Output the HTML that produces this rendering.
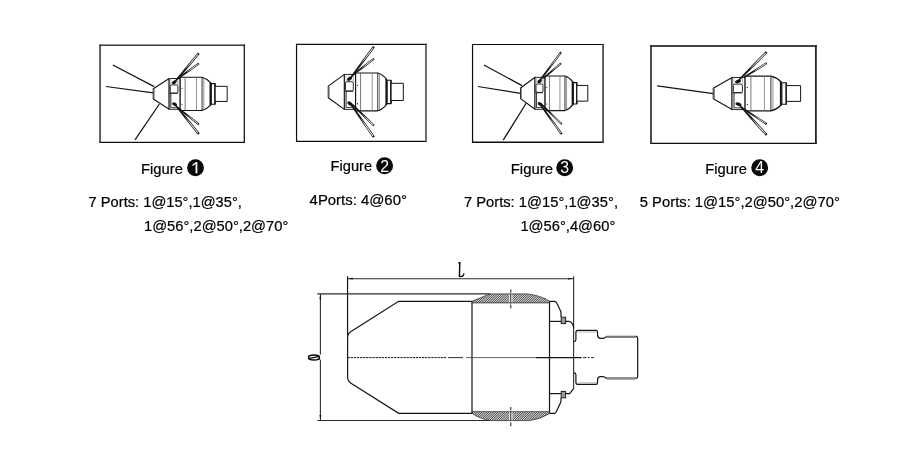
<!DOCTYPE html>
<html><head><meta charset="utf-8"><title>Nozzle figures</title>
<style>
html,body{margin:0;padding:0;background:#fff;}
body{width:900px;height:454px;overflow:hidden;font-family:"Liberation Sans",sans-serif;}
svg{display:block;filter:grayscale(1);}
</style></head><body>
<svg width="900" height="454" viewBox="0 0 900 454">
<rect width="900" height="454" fill="#fff"/>
<defs>
<g id="noz" fill="#fff" stroke="#141414" stroke-width="1.15" vector-effect="non-scaling-stroke" stroke-linejoin="round">
  <path vector-effect="non-scaling-stroke" d="M0,-5.8 L0,5.8 L16.1,17.5 L16.1,-17.5 Z"/>
  <rect vector-effect="non-scaling-stroke" x="0.2" y="-5.4" width="1.3" height="10.8" fill="#8a8a8a" stroke="none"/>
  <rect vector-effect="non-scaling-stroke" x="16.1" y="-17.5" width="11.2" height="35" stroke-width="0.95"/>
  <line vector-effect="non-scaling-stroke" x1="17.7" y1="-17.5" x2="17.7" y2="17.5" stroke="#9a9a9a" stroke-width="0.6"/>
  <path vector-effect="non-scaling-stroke" d="M27.3,-18.9 L49.5,-18.9 Q54.2,-17.6 58.4,-12.5 L58.4,12.5 Q54.2,17.6 49.5,18.9 L27.3,18.9 Z"/>
  <line vector-effect="non-scaling-stroke" x1="32.3" y1="-18.9" x2="32.3" y2="18.9" stroke="#555" stroke-width="0.8"/>
  <line vector-effect="non-scaling-stroke" x1="43.9" y1="-18.9" x2="43.9" y2="18.9" stroke="#777" stroke-width="0.8"/>
  <line vector-effect="non-scaling-stroke" x1="49.5" y1="-18.9" x2="49.5" y2="18.9" stroke-width="0.9"/>
  <line vector-effect="non-scaling-stroke" x1="51.3" y1="-18.3" x2="51.3" y2="18.3" stroke="#666" stroke-width="0.7"/>
  <line vector-effect="non-scaling-stroke" x1="57.9" y1="-13" x2="57.9" y2="13" stroke-width="1.6"/>
  <rect vector-effect="non-scaling-stroke" x="58.9" y="-11.7" width="3.9" height="23.4" stroke-width="1.1"/>
  <line vector-effect="non-scaling-stroke" x1="62.6" y1="-11.7" x2="62.6" y2="11.7" stroke-width="1.4"/>
  <rect vector-effect="non-scaling-stroke" x="62.8" y="-8.6" width="12.2" height="17.2" stroke-width="1"/>
  <!-- mid band detail -->
  <rect vector-effect="non-scaling-stroke" x="17.2" y="-10.2" width="7.8" height="9.2" rx="1.4" stroke-width="0.9"/>
  <line vector-effect="non-scaling-stroke" x1="16.1" y1="-0.6" x2="25" y2="-0.6" stroke-width="0.8"/>
  <path vector-effect="non-scaling-stroke" d="M17.8,-0.6 L17.8,15.6 L25,15.6" fill="none" stroke-width="0.8"/>
  <line vector-effect="non-scaling-stroke" x1="25" y1="-10.2" x2="25" y2="-17.5" stroke="#777" stroke-width="0.6"/>
  <ellipse vector-effect="non-scaling-stroke" cx="21.2" cy="-13.2" rx="2.7" ry="1.8" fill="#141414" stroke="none" transform="rotate(-30 21.2 -13.2)"/>
  <ellipse vector-effect="non-scaling-stroke" cx="21.6" cy="11.6" rx="2.7" ry="1.8" fill="#141414" stroke="none" transform="rotate(30 21.6 11.6)"/>
  <circle cx="29.2" cy="-6.4" r="0.6" fill="#141414" stroke="none"/>
  <circle cx="29.2" cy="11.8" r="0.6" fill="#141414" stroke="none"/>
</g>

<pattern id="hat" width="1.9" height="1.9" patternUnits="userSpaceOnUse" patternTransform="rotate(-45)">
  <rect width="1.9" height="1.9" fill="#fff"/>
  <line x1="0" y1="0.95" x2="1.9" y2="0.95" stroke="#4a4a4a" stroke-width="0.75"/>
</pattern>
</defs>
<line x1="99.25" y1="45.3" x2="244.925" y2="45.3" stroke="#3a3a3a" stroke-width="1.6"/><line x1="99.25" y1="142.45" x2="244.925" y2="142.45" stroke="#111" stroke-width="1.25"/><line x1="100.05" y1="44.5" x2="100.05" y2="143.075" stroke="#3a3a3a" stroke-width="1.6"/><line x1="244.3" y1="44.5" x2="244.3" y2="143.075" stroke="#111" stroke-width="1.25"/>
<line x1="112.8" y1="65" x2="154.2" y2="86.6" stroke="#141414" stroke-width="1.25"/>
<line x1="105.9" y1="86.5" x2="153.3" y2="92.8" stroke="#141414" stroke-width="1.25"/>
<line x1="135" y1="139.9" x2="159.4" y2="104" stroke="#141414" stroke-width="1.25"/>
<use href="#noz" transform="translate(153.3,93.9) scale(0.985,0.88)"/>
<polygon points="175.09,82.80 192.39,62.74 199.68,54.04 197.92,52.56 190.63,61.26 173.91,81.80" fill="#141414"/><polygon points="185.49,69.30 191.85,62.29 198.29,54.60 197.60,54.03 191.17,61.71 185.38,69.20" fill="#fff"/>
<polygon points="177.85,79.43 192.96,68.90 199.38,64.31 198.22,62.69 191.80,67.28 176.95,78.17" fill="#141414"/><polygon points="187.07,71.98 192.61,68.42 198.28,64.36 197.82,63.71 192.15,67.76 186.99,71.85" fill="#fff"/>
<polygon points="176.92,108.01 191.76,120.08 198.18,125.18 199.42,123.62 193.00,118.52 177.88,106.79" fill="#141414"/><polygon points="186.98,115.11 192.13,119.61 197.80,124.12 198.30,123.49 192.63,118.99 187.08,114.99" fill="#fff"/>
<polygon points="174.20,104.79 190.71,125.81 197.91,134.72 199.69,133.28 192.49,124.37 175.40,103.81" fill="#141414"/><polygon points="185.54,117.71 191.25,125.37 197.61,133.24 198.31,132.68 191.95,124.81 185.66,117.62" fill="#fff"/>
<line x1="295.95" y1="44.45" x2="426.8" y2="44.45" stroke="#0c0c0c" stroke-width="1.2"/><line x1="295.95" y1="141.45" x2="426.8" y2="141.45" stroke="#0c0c0c" stroke-width="1.2"/><line x1="296.55" y1="43.85" x2="296.55" y2="142.04999999999998" stroke="#0c0c0c" stroke-width="1.2"/><line x1="425.95" y1="43.85" x2="425.95" y2="142.04999999999998" stroke="#555" stroke-width="1.7"/>
<use href="#noz" transform="translate(328.3,91.9) scale(1,1)"/>
<polygon points="350.22,79.66 367.53,57.14 374.82,47.39 372.98,46.01 365.69,55.76 348.98,78.74" fill="#141414"/><polygon points="360.60,64.62 366.97,56.72 373.41,48.11 372.69,47.57 366.25,56.18 360.47,64.53" fill="#fff"/>
<polygon points="353.27,75.61 368.18,64.38 374.51,59.49 373.29,57.91 366.96,62.80 352.33,74.39" fill="#141414"/><polygon points="362.34,67.72 367.81,63.91 373.41,59.59 372.92,58.95 367.33,63.27 362.25,67.61" fill="#fff"/>
<polygon points="351.66,104.95 366.69,119.96 373.20,126.32 374.60,124.88 368.09,118.52 352.74,103.85" fill="#141414"/><polygon points="361.91,113.99 367.11,119.53 372.86,125.14 373.42,124.57 367.67,118.95 362.02,113.89" fill="#fff"/>
<polygon points="349.17,103.24 365.73,127.54 372.96,137.86 374.84,136.54 367.61,126.22 350.43,102.36" fill="#141414"/><polygon points="360.58,118.32 366.30,127.14 372.69,136.25 373.43,135.74 367.04,126.62 360.71,118.24" fill="#fff"/>
<line x1="471.95" y1="44.5" x2="603.9" y2="44.5" stroke="#0c0c0c" stroke-width="1.2"/><line x1="471.95" y1="142.25" x2="603.9" y2="142.25" stroke="#0c0c0c" stroke-width="1.3"/><line x1="472.55" y1="43.9" x2="472.55" y2="142.9" stroke="#0c0c0c" stroke-width="1.2"/><line x1="603.05" y1="43.9" x2="603.05" y2="142.9" stroke="#444" stroke-width="1.7"/>
<line x1="483.9" y1="65" x2="522" y2="85.6" stroke="#141414" stroke-width="1.25"/>
<line x1="477.8" y1="86.5" x2="520.6" y2="93.3" stroke="#141414" stroke-width="1.25"/>
<line x1="503.2" y1="140.2" x2="526.3" y2="103" stroke="#141414" stroke-width="1.25"/>
<use href="#noz" transform="translate(520.6,93.3) scale(0.896,0.913)"/>
<polygon points="539.52,82.17 555.24,61.65 561.90,52.80 560.30,51.60 553.64,60.45 538.28,81.23" fill="#141414"/><polygon points="548.95,68.47 554.72,61.26 560.60,53.44 560.04,53.02 554.16,60.84 548.83,68.38" fill="#fff"/>
<polygon points="543.80,78.89 556.34,68.49 561.68,63.99 560.52,62.61 555.18,67.11 542.80,77.71" fill="#141414"/><polygon points="551.36,71.61 555.97,68.05 560.69,64.07 560.27,63.58 555.55,67.55 551.26,71.49" fill="#fff"/>
<polygon points="540.56,104.45 554.89,118.68 561.07,124.74 562.33,123.46 556.15,117.40 541.64,103.35" fill="#141414"/><polygon points="550.32,113.04 555.29,118.27 560.75,123.63 561.21,123.16 555.75,117.81 550.42,112.94" fill="#fff"/>
<polygon points="538.87,103.96 554.23,125.51 560.89,134.69 562.51,133.51 555.85,124.33 540.13,103.04" fill="#141414"/><polygon points="549.43,117.31 554.76,125.13 560.64,133.23 561.21,132.82 555.32,124.71 549.55,117.23" fill="#fff"/>
<line x1="650.15" y1="46.0" x2="816.8" y2="46.0" stroke="#444" stroke-width="1.8"/><line x1="650.15" y1="143.3" x2="816.8" y2="143.3" stroke="#0c0c0c" stroke-width="1.3"/><line x1="651.0" y1="45.1" x2="651.0" y2="143.95000000000002" stroke="#2c2c2c" stroke-width="1.7"/><line x1="815.9" y1="45.1" x2="815.9" y2="143.95000000000002" stroke="#222" stroke-width="1.8"/>
<line x1="657.2" y1="85.9" x2="713.3" y2="93.7" stroke="#141414" stroke-width="1.25"/>
<use href="#noz" transform="translate(713.3,93.5) scale(1.164,0.918)"/>
<polygon points="737.75,82.25 758.67,61.72 767.52,52.81 765.88,51.19 757.03,60.10 736.65,81.15" fill="#141414"/><polygon points="750.53,68.39 758.17,61.23 765.99,53.36 765.35,52.72 757.53,60.59 750.42,68.28" fill="#fff"/>
<polygon points="744.81,77.86 760.54,68.18 767.23,63.95 766.17,62.25 759.48,66.48 743.99,76.54" fill="#141414"/><polygon points="754.48,70.92 760.22,67.67 766.13,63.93 765.71,63.26 759.80,66.99 754.39,70.79" fill="#fff"/>
<polygon points="740.67,107.85 758.47,119.86 766.15,124.93 767.25,123.27 759.57,118.20 741.53,106.55" fill="#141414"/><polygon points="752.58,114.87 758.80,119.36 765.58,123.84 766.02,123.17 759.24,118.70 752.66,114.74" fill="#fff"/>
<polygon points="738.43,105.12 757.54,126.65 765.85,135.77 767.55,134.23 759.24,125.11 739.57,104.08" fill="#141414"/><polygon points="751.41,118.33 758.06,126.18 765.40,134.24 766.06,133.63 758.72,125.58 751.52,118.23" fill="#fff"/>
<g font-family="'Liberation Sans', sans-serif" fill="#000" stroke="#000" stroke-width="0.22">
<text x="141.0" y="173.6" font-size="15.3" textLength="41.9" lengthAdjust="spacingAndGlyphs">Figure</text>
<circle cx="195.5" cy="167.7" r="8.45" fill="#0a0a0a" stroke="none"/><path d="M192.50,165.40 L196.00,162.80" stroke="#fff" stroke-width="1.3" fill="none"/><path d="M196.45,162.10 L196.45,173.30" stroke="#fff" stroke-width="1.8" fill="none"/>
<text x="330.6" y="171.4" font-size="14.6" textLength="41.5" lengthAdjust="spacingAndGlyphs">Figure</text>
<circle cx="384.6" cy="165.79999999999998" r="8.45" fill="#0a0a0a" stroke="none"/><text x="384.6" y="171.50" font-size="15.8" fill="#fff" stroke="none" text-anchor="middle">2</text>
<text x="510.8" y="173.6" font-size="15.3" textLength="42.1" lengthAdjust="spacingAndGlyphs">Figure</text>
<circle cx="564.7" cy="167.7" r="8.45" fill="#0a0a0a" stroke="none"/><text x="564.7" y="173.40" font-size="15.8" fill="#fff" stroke="none" text-anchor="middle">3</text>
<text x="705.2" y="173.6" font-size="15.3" textLength="41.8" lengthAdjust="spacingAndGlyphs">Figure</text>
<circle cx="759.7" cy="167.7" r="8.45" fill="#0a0a0a" stroke="none"/><text x="759.7" y="173.40" font-size="15.8" fill="#fff" stroke="none" text-anchor="middle">4</text>
<text x="88.6" y="206.7" font-size="15.3" textLength="153.3" lengthAdjust="spacingAndGlyphs">7 Ports: 1@15°,1@35°,</text>
<text x="144" y="230.7" font-size="15.3" textLength="144.3" lengthAdjust="spacingAndGlyphs">1@56°,2@50°,2@70°</text>
<text x="309.6" y="204.7" font-size="14.3" textLength="97.3" lengthAdjust="spacingAndGlyphs">4Ports: 4@60°</text>
<text x="463.9" y="206.7" font-size="15.3" textLength="154.1" lengthAdjust="spacingAndGlyphs">7 Ports: 1@15°,1@35°,</text>
<text x="520.4" y="230.7" font-size="15.3" textLength="94.9" lengthAdjust="spacingAndGlyphs">1@56°,4@60°</text>
<text x="639.8" y="206.7" font-size="15.3" textLength="200" lengthAdjust="spacingAndGlyphs">5 Ports: 1@15°,2@50°,2@70°</text>
</g>
<line x1="347.4" y1="278.7" x2="573.6" y2="278.7" stroke="#2c2c2c" stroke-width="1.1" fill="none"/>
<line x1="347.55" y1="276.3" x2="347.55" y2="335.5" stroke="#141414" stroke-width="1.2" fill="none"/>
<line x1="573.6" y1="276.3" x2="573.6" y2="388.7" stroke="#2c2c2c" stroke-width="1.1" fill="none"/>
<path d="M347.8,278.7 l5,-0.9 l0,1.8 z" fill="#111"/>
<path d="M573.2,278.7 l-5,-0.9 l0,1.8 z" fill="#111"/>
<path d="M458.3,262.7 L460.6,262.7 M459.8,262.4 L459.4,276.6 M458.9,276.6 L462.7,276.3 L464.1,273.5" stroke="#0c0c0c" stroke-width="1.45" fill="none" stroke-linejoin="round"/>
<line x1="317.3" y1="293.9" x2="490" y2="293.9" stroke="#2c2c2c" stroke-width="1.1" fill="none"/>
<line x1="317.3" y1="420.5" x2="490" y2="420.5" stroke="#2c2c2c" stroke-width="1.1" fill="none"/>
<line x1="320.4" y1="293.9" x2="320.4" y2="354.6" stroke="#2c2c2c" stroke-width="1.1" fill="none"/>
<line x1="320.4" y1="360.2" x2="320.4" y2="420.5" stroke="#2c2c2c" stroke-width="1.1" fill="none"/>
<path d="M320.4,294.3 l-0.9,5 l1.8,0 z" fill="#111"/>
<path d="M320.4,420.1 l-0.9,-5 l1.8,0 z" fill="#111"/>
<ellipse cx="314" cy="357.6" rx="5.5" ry="2.5" stroke="#0c0c0c" stroke-width="1.5" fill="none"/>
<line x1="308.6" y1="358.6" x2="319.4" y2="356.4" stroke="#0c0c0c" stroke-width="1.4"/>
<line x1="319.2" y1="358.6" x2="320.4" y2="360.4" stroke="#222" stroke-width="1"/>
<path d="M472,301.3 L398.7,301.3 L351,331.4 Q347.6,333.6 347.6,337.5 L347.6,377 Q347.6,381 351,383.2 L398.7,413.3 L472,413.3" stroke="#141414" stroke-width="1.2" fill="none"/>
<line x1="472" y1="301.3" x2="472" y2="413.3" stroke="#141414" stroke-width="1.2" fill="none"/>
<line x1="549.5" y1="301.3" x2="549.5" y2="413.3" stroke="#141414" stroke-width="1.2" fill="none"/>
<clipPath id="ct"><path d="M472,302.9 L472,301.3 L490,293.9 L527.3,293.9 Q541,295.6 549.6,301.2 L549.6,302.9 Z"/></clipPath><clipPath id="cb"><path d="M472,411.7 L472,413.3 Q480,419 490.7,420.6 L529.3,420.6 Q541,419 549.6,413.4 L549.6,411.7 Z"/></clipPath>
<g clip-path="url(#ct)" stroke="#1a1a1a" stroke-width="0.82"><line x1="460.00" y1="304" x2="471.00" y2="293"/><line x1="461.78" y1="304" x2="472.78" y2="293"/><line x1="463.56" y1="304" x2="474.56" y2="293"/><line x1="465.34" y1="304" x2="476.34" y2="293"/><line x1="467.12" y1="304" x2="478.12" y2="293"/><line x1="468.90" y1="304" x2="479.90" y2="293"/><line x1="470.68" y1="304" x2="481.68" y2="293"/><line x1="472.46" y1="304" x2="483.46" y2="293"/><line x1="474.24" y1="304" x2="485.24" y2="293"/><line x1="476.02" y1="304" x2="487.02" y2="293"/><line x1="477.80" y1="304" x2="488.80" y2="293"/><line x1="479.58" y1="304" x2="490.58" y2="293"/><line x1="481.36" y1="304" x2="492.36" y2="293"/><line x1="483.14" y1="304" x2="494.14" y2="293"/><line x1="484.92" y1="304" x2="495.92" y2="293"/><line x1="486.70" y1="304" x2="497.70" y2="293"/><line x1="488.48" y1="304" x2="499.48" y2="293"/><line x1="490.26" y1="304" x2="501.26" y2="293"/><line x1="492.04" y1="304" x2="503.04" y2="293"/><line x1="493.82" y1="304" x2="504.82" y2="293"/><line x1="495.60" y1="304" x2="506.60" y2="293"/><line x1="497.38" y1="304" x2="508.38" y2="293"/><line x1="499.16" y1="304" x2="510.16" y2="293"/><line x1="500.94" y1="304" x2="511.94" y2="293"/><line x1="502.72" y1="304" x2="513.72" y2="293"/><line x1="504.50" y1="304" x2="515.50" y2="293"/><line x1="506.28" y1="304" x2="517.28" y2="293"/><line x1="508.06" y1="304" x2="519.06" y2="293"/><line x1="509.84" y1="304" x2="520.84" y2="293"/><line x1="511.62" y1="304" x2="522.62" y2="293"/><line x1="513.40" y1="304" x2="524.40" y2="293"/><line x1="515.18" y1="304" x2="526.18" y2="293"/><line x1="516.96" y1="304" x2="527.96" y2="293"/><line x1="518.74" y1="304" x2="529.74" y2="293"/><line x1="520.52" y1="304" x2="531.52" y2="293"/><line x1="522.30" y1="304" x2="533.30" y2="293"/><line x1="524.08" y1="304" x2="535.08" y2="293"/><line x1="525.86" y1="304" x2="536.86" y2="293"/><line x1="527.64" y1="304" x2="538.64" y2="293"/><line x1="529.42" y1="304" x2="540.42" y2="293"/><line x1="531.20" y1="304" x2="542.20" y2="293"/><line x1="532.98" y1="304" x2="543.98" y2="293"/><line x1="534.76" y1="304" x2="545.76" y2="293"/><line x1="536.54" y1="304" x2="547.54" y2="293"/><line x1="538.32" y1="304" x2="549.32" y2="293"/><line x1="540.10" y1="304" x2="551.10" y2="293"/><line x1="541.88" y1="304" x2="552.88" y2="293"/><line x1="543.66" y1="304" x2="554.66" y2="293"/><line x1="545.44" y1="304" x2="556.44" y2="293"/><line x1="547.22" y1="304" x2="558.22" y2="293"/><line x1="549.00" y1="304" x2="560.00" y2="293"/><line x1="550.78" y1="304" x2="561.78" y2="293"/></g>
<g clip-path="url(#cb)" stroke="#1a1a1a" stroke-width="0.82"><line x1="460.00" y1="421.5" x2="470.50" y2="411"/><line x1="461.78" y1="421.5" x2="472.28" y2="411"/><line x1="463.56" y1="421.5" x2="474.06" y2="411"/><line x1="465.34" y1="421.5" x2="475.84" y2="411"/><line x1="467.12" y1="421.5" x2="477.62" y2="411"/><line x1="468.90" y1="421.5" x2="479.40" y2="411"/><line x1="470.68" y1="421.5" x2="481.18" y2="411"/><line x1="472.46" y1="421.5" x2="482.96" y2="411"/><line x1="474.24" y1="421.5" x2="484.74" y2="411"/><line x1="476.02" y1="421.5" x2="486.52" y2="411"/><line x1="477.80" y1="421.5" x2="488.30" y2="411"/><line x1="479.58" y1="421.5" x2="490.08" y2="411"/><line x1="481.36" y1="421.5" x2="491.86" y2="411"/><line x1="483.14" y1="421.5" x2="493.64" y2="411"/><line x1="484.92" y1="421.5" x2="495.42" y2="411"/><line x1="486.70" y1="421.5" x2="497.20" y2="411"/><line x1="488.48" y1="421.5" x2="498.98" y2="411"/><line x1="490.26" y1="421.5" x2="500.76" y2="411"/><line x1="492.04" y1="421.5" x2="502.54" y2="411"/><line x1="493.82" y1="421.5" x2="504.32" y2="411"/><line x1="495.60" y1="421.5" x2="506.10" y2="411"/><line x1="497.38" y1="421.5" x2="507.88" y2="411"/><line x1="499.16" y1="421.5" x2="509.66" y2="411"/><line x1="500.94" y1="421.5" x2="511.44" y2="411"/><line x1="502.72" y1="421.5" x2="513.22" y2="411"/><line x1="504.50" y1="421.5" x2="515.00" y2="411"/><line x1="506.28" y1="421.5" x2="516.78" y2="411"/><line x1="508.06" y1="421.5" x2="518.56" y2="411"/><line x1="509.84" y1="421.5" x2="520.34" y2="411"/><line x1="511.62" y1="421.5" x2="522.12" y2="411"/><line x1="513.40" y1="421.5" x2="523.90" y2="411"/><line x1="515.18" y1="421.5" x2="525.68" y2="411"/><line x1="516.96" y1="421.5" x2="527.46" y2="411"/><line x1="518.74" y1="421.5" x2="529.24" y2="411"/><line x1="520.52" y1="421.5" x2="531.02" y2="411"/><line x1="522.30" y1="421.5" x2="532.80" y2="411"/><line x1="524.08" y1="421.5" x2="534.58" y2="411"/><line x1="525.86" y1="421.5" x2="536.36" y2="411"/><line x1="527.64" y1="421.5" x2="538.14" y2="411"/><line x1="529.42" y1="421.5" x2="539.92" y2="411"/><line x1="531.20" y1="421.5" x2="541.70" y2="411"/><line x1="532.98" y1="421.5" x2="543.48" y2="411"/><line x1="534.76" y1="421.5" x2="545.26" y2="411"/><line x1="536.54" y1="421.5" x2="547.04" y2="411"/><line x1="538.32" y1="421.5" x2="548.82" y2="411"/><line x1="540.10" y1="421.5" x2="550.60" y2="411"/><line x1="541.88" y1="421.5" x2="552.38" y2="411"/><line x1="543.66" y1="421.5" x2="554.16" y2="411"/><line x1="545.44" y1="421.5" x2="555.94" y2="411"/><line x1="547.22" y1="421.5" x2="557.72" y2="411"/><line x1="549.00" y1="421.5" x2="559.50" y2="411"/><line x1="550.78" y1="421.5" x2="561.28" y2="411"/></g>
<path d="M472,302.9 L472,301.3 L490,293.9 L527.3,293.9 Q541,295.6 549.6,301.2 L549.6,302.9 Z" fill="none" stroke="#333" stroke-width="0.8"/>
<path d="M472,411.7 L472,413.3 Q480,419 490.7,420.6 L529.3,420.6 Q541,419 549.6,413.4 L549.6,411.7 Z" fill="none" stroke="#333" stroke-width="0.8"/>
<rect x="509.3" y="294.5" width="3.1" height="8.0" fill="#fff"/>
<rect x="509.3" y="412.2" width="3.1" height="8.0" fill="#fff"/>
<path d="M510.8,289.4 v3.4 M510.8,294 v9.4 M510.8,304.6 v3.7" stroke="#1a1a1a" stroke-width="1" fill="none"/>
<path d="M510.8,407 v3.2 M510.8,411.4 v9.6 M510.8,422.4 v3.9" stroke="#1a1a1a" stroke-width="1" fill="none"/>
<path d="M549.7,301.3 L554.6,301.3 Q556.2,301.5 557,303.4 L560.6,311 Q561,311.8 561,313 L561,317" stroke="#141414" stroke-width="1.2" fill="none"/>
<path d="M549.7,413.3 L554.6,413.3 Q555.6,413.2 556.4,411.6 L560.4,403 Q561,401.8 561,400.6 L561,397.7" stroke="#141414" stroke-width="1.2" fill="none"/>
<line x1="549.7" y1="321.4" x2="561" y2="321.4" stroke="#141414" stroke-width="1.2" fill="none"/>
<line x1="549.7" y1="393.6" x2="561" y2="393.6" stroke="#141414" stroke-width="1.2" fill="none"/>
<rect x="561.2" y="317.2" width="4.4" height="6.4" fill="#9a9a9a" stroke="#222" stroke-width="1"/>
<rect x="561.2" y="391.4" width="4.4" height="6.4" fill="#9a9a9a" stroke="#222" stroke-width="1"/>
<path d="M565.7,321.4 L569,321.4 Q571,321.6 572.2,323.6 Q573.6,325.6 573.6,328" stroke="#141414" stroke-width="1.2" fill="none"/>
<path d="M565.7,393.6 L569.6,393.6 L573.6,388.7" stroke="#141414" stroke-width="1.2" fill="none"/>
<path d="M573.8,341.6 Q575.8,341.6 575.9,339.8 L575.9,332.4 Q575.9,330.3 578,330.3 L596,330.3 Q597.4,330.3 597.5,331.8 L597.6,335.4 Q597.8,338.3 600.6,338.3 L603,338.3 Q604.6,338.2 605.6,337.2 L606.6,336.4" stroke="#141414" stroke-width="1.2" fill="none"/>
<path d="M573.8,372.8 Q575.8,372.8 575.9,374.6 L575.9,382.2 Q575.9,384.4 578,384.4 L596,384.4 Q597.4,384.4 597.5,382.9 L597.6,379.6 Q597.8,376.7 600.6,376.7 L603,376.7 Q604.6,376.8 605.6,377.8 L606.6,378.4" stroke="#141414" stroke-width="1.2" fill="none"/>
<line x1="578" y1="332" x2="596.6" y2="332" stroke="#999" stroke-width="0.7"/>
<line x1="578" y1="382.8" x2="596.6" y2="382.8" stroke="#999" stroke-width="0.7"/>
<line x1="606.4" y1="336.8" x2="636" y2="336.8" stroke="#777" stroke-width="2.2"/>
<line x1="606.4" y1="378" x2="636" y2="378" stroke="#222" stroke-width="1"/>
<line x1="606.8" y1="379.4" x2="635.6" y2="379.4" stroke="#888" stroke-width="0.8"/>
<path d="M636,336.2 Q637.7,336.6 637.7,338.6 L637.7,376.4 Q637.7,378 636,378.4" stroke="#141414" stroke-width="1.2" fill="none"/>
<line x1="347.6" y1="357.6" x2="447" y2="357.6" stroke="#1a1a1a" stroke-width="1" stroke-dasharray="2.3 0.8"/>
<line x1="448" y1="357.6" x2="463" y2="357.6" stroke="#1a1a1a" stroke-width="0.9"/>
<line x1="466" y1="357.6" x2="536" y2="357.6" stroke="#3a3a3a" stroke-width="0.8"/>
<line x1="536" y1="357.6" x2="581.5" y2="357.6" stroke="#141414" stroke-width="1.1"/>
<line x1="583" y1="357.6" x2="594" y2="357.6" stroke="#1a1a1a" stroke-width="0.9" stroke-dasharray="3.6 1.2 2 1.2"/>
</svg>
</body></html>
